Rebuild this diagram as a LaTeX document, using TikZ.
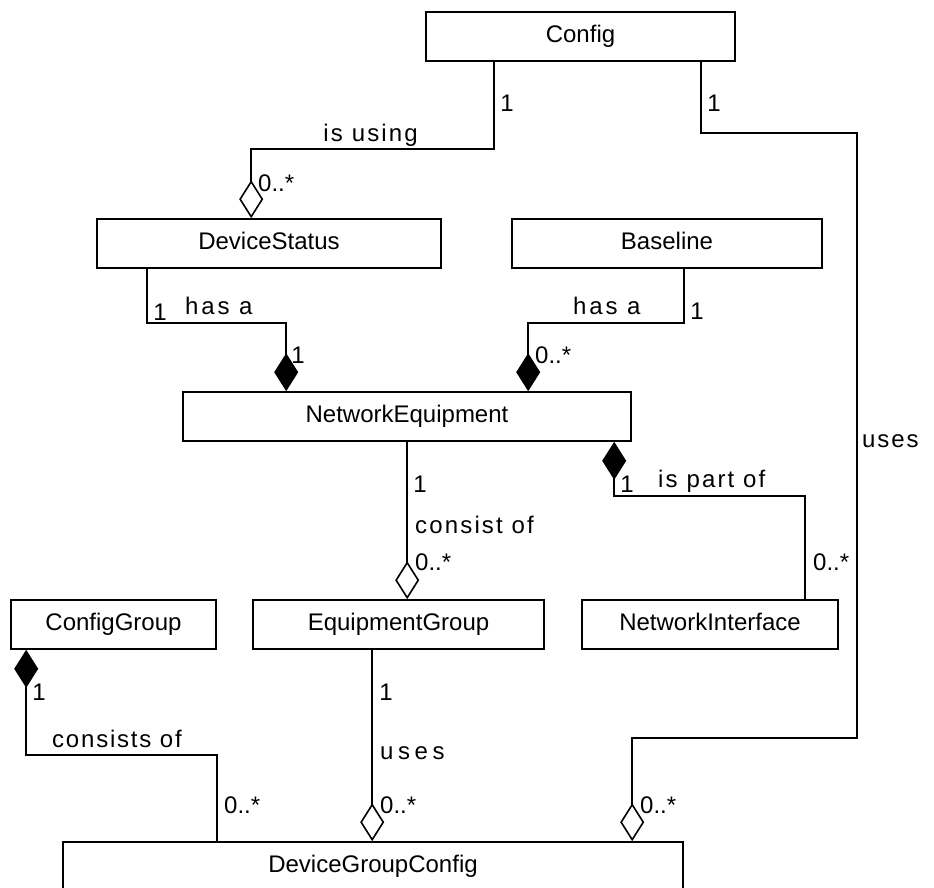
\documentclass[tikz,border=0pt]{standalone}
\usepackage{fontspec}
\setmainfont{Liberation Sans}
\newfontfamily\lblfont{Liberation Sans}[LetterSpace=9]
\usetikzlibrary{arrows.meta}

\begin{document}
\begin{tikzpicture}[x=1pt, y=-1pt,
  txt/.style={font=\fontsize{24}{28}\selectfont},
  cls/.style={txt, draw, line width=1.6pt, rectangle, inner sep=0pt,
              minimum height=49pt, text height=17.5pt, text depth=5pt},
  mult/.style={txt, inner sep=0pt, anchor=base west},
  one/.style={txt, inner sep=0pt, anchor=base},
  role/.style={txt, inner sep=0pt, anchor=base west, font=\fontsize{24}{28}\selectfont\lblfont},
  link/.style={line width=1.6pt},
  agg/.style={-{Diamond[open, fill=white, length=38pt, width=24pt]}},
  comp/.style={-{Diamond[length=38pt, width=24pt]}},
  compstart/.style={{Diamond[length=38pt, width=24pt]}-},
]
\useasboundingbox (0,0) rectangle (934,888);

% classes
\node[cls, minimum width=309pt] (config)  at (580.5,36.5)  {Config};
\node[cls, minimum width=344pt] (devstat) at (269,243.5)   {DeviceStatus};
\node[cls, minimum width=310pt] (base)    at (667,243.5)   {Baseline};
\node[cls, minimum width=448pt] (neq)     at (407,416.5)   {NetworkEquipment};
\node[cls, minimum width=205pt] (cgr)     at (113.5,624.5) {ConfigGroup};
\node[cls, minimum width=291pt] (eqg)     at (398.5,624.5) {EquipmentGroup};
\node[cls, minimum width=256pt] (nif)     at (710,624.5)   {NetworkInterface};
\node[cls, minimum width=620pt] (dgc)     at (373,866.5)   {DeviceGroupConfig};

% attachment points
\coordinate (c1s) at ([xshift=69pt]config.south west);
\coordinate (c1e) at ([xshift=155pt]devstat.north west);
\coordinate (c2s) at ([xshift=276pt]config.south west);
\coordinate (c2e) at ([xshift=570pt]dgc.north west);
\coordinate (c3s) at ([xshift=51pt]devstat.south west);
\coordinate (c3e) at ([xshift=104pt]neq.north west);
\coordinate (c4s) at ([xshift=173pt]base.south west);
\coordinate (c4e) at ([xshift=346pt]neq.north west);
\coordinate (c5s) at ([xshift=225pt]neq.south west);
\coordinate (c5e) at (c5s |- eqg.north);
\coordinate (c6s) at ([xshift=432pt]neq.south west);
\coordinate (c6e) at ([xshift=224pt]nif.north west);
\coordinate (c7s) at ([xshift=16pt]cgr.south west);
\coordinate (c7e) at ([xshift=155pt]dgc.north west);
\coordinate (c8s) at ([xshift=120pt]eqg.south west);
\coordinate (c8e) at (c8s |- dgc.north);

% associations
\draw[link, agg]       (c1s) -- ++(0,87) -| (c1e);
\draw[link, agg]       (c2s) -- ++(0,71) -- ++(156,0) -- ++(0,605) -| (c2e);
\draw[link, comp]      (c3s) -- ++(0,54) -| (c3e);
\draw[link, comp]      (c4s) -- ++(0,54) -| (c4e);
\draw[link, agg]       (c5s) -- (c5e);
\draw[link, compstart] (c6s) -- ++(0,54) -| (c6e);
\draw[link, compstart] (c7s) -- ++(0,105) -| (c7e);
\draw[link, agg]       (c8s) -- (c8e);

% Config -- DeviceStatus
\node[one]  (m1a) at (507,112) {1};
\node[role, anchor=base east] (r1) at (418,142) {is using};
\node[mult] (m1b) at (258,191) {0..*};
% Config -- DeviceGroupConfig
\node[one]  (m2a) at (714,112) {1};
\node[role, font=\fontsize{24}{28}\selectfont\lblfont\addfontfeature{LetterSpace=8}] (r2) at (862,447) {uses};
\node[mult] (m2b) at (640,813) {0..*};
% DeviceStatus -- NetworkEquipment
\node[one]  (m3a) at (160,320) {1};
\node[role, font=\fontsize{24}{28}\selectfont\lblfont\addfontfeature{LetterSpace=12}] (r3) at (185,314) {has a};
\node[one]  (m3b) at (298,363) {1};
% Baseline -- NetworkEquipment
\node[one]  (m4a) at (697,319) {1};
\node[role, font=\fontsize{24}{28}\selectfont\lblfont\addfontfeature{LetterSpace=12}] (r4) at (573,314) {has a};
\node[mult] (m4b) at (535,363) {0..*};
% NetworkEquipment -- EquipmentGroup
\node[one]  (m5a) at (420,492) {1};
\node[role] (r5) at (415,533) {consist of};
\node[mult] (m5b) at (415,570) {0..*};
% NetworkEquipment -- NetworkInterface
\node[one]  (m6a) at (627,492) {1};
\node[role] (r6) at (658,487) {is part of};
\node[mult] (m6b) at (813,570) {0..*};
% ConfigGroup -- DeviceGroupConfig
\node[one]  (m7a) at (39,700) {1};
\node[role, font=\fontsize{24}{28}\selectfont\lblfont\addfontfeature{LetterSpace=7.5}] (r7) at (52,747) {consists of};
\node[mult] (m7b) at (224,813) {0..*};
% EquipmentGroup -- DeviceGroupConfig
\node[one]  (m8a) at (386,700) {1};
\node[role, font=\fontsize{24}{28}\selectfont\lblfont\addfontfeature{LetterSpace=19}] (r8) at (380,759) {uses};
\node[mult] (m8b) at (380,813) {0..*};
\end{tikzpicture}
\end{document}
